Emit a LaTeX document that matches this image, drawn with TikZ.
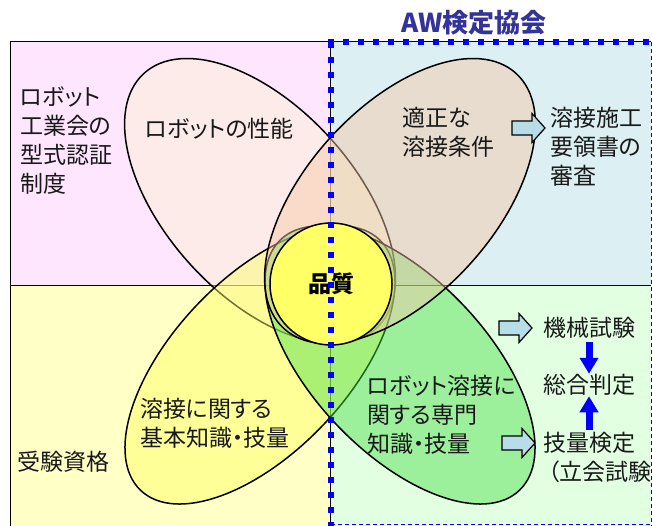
\documentclass[tikz,border=0pt]{standalone}
\usepackage{fontspec}
\setmainfont{Noto Sans CJK JP}[RawFeature=+palt]
\usetikzlibrary{arrows.meta}
\definecolor{bgTL}{HTML}{FFE6FF}
\definecolor{bgTR}{HTML}{DCEFF2}
\definecolor{bgBL}{HTML}{FFFFC6}
\definecolor{bgBR}{HTML}{E2FFE2}
\definecolor{pTL}{HTML}{FAF3CC}
\definecolor{pTR}{HTML}{F8C7A5}
\definecolor{pBL}{HTML}{FFFF62}
\definecolor{pBR}{HTML}{47DE47}
\definecolor{core}{HTML}{FFFF66}
\definecolor{awblue}{HTML}{333399}
\definecolor{arrfill}{HTML}{B7DDE8}
\begin{document}
\begin{tikzpicture}[x=1pt,y=-1pt,
  petal/.style={draw=black, line width=1.5pt, fill opacity=0.45},
  quad/.style={draw=black, line width=1pt},
  txt/.style={inner sep=0pt, outer sep=0pt, text=black!90, font=\fontsize{23pt}{29pt}\selectfont, align=left, anchor=north west},
  one/.style={inner sep=0pt, outer sep=0pt, text=black!90, font=\fontsize{23pt}{29pt}\selectfont, anchor=west, text height=19.5pt, text depth=3pt},
  blockarrow/.pic={\draw[draw=black, line width=1.2pt, fill=arrfill, line join=miter]
      (0,-7) -- (20,-7) -- (20,-14.5) -- (33,0) -- (20,14.5) -- (20,7) -- (0,7) -- cycle;},
  barrow/.style={draw=blue, line width=7pt, -{Triangle[width=18pt,length=16pt]}},
  thickdash/.style={draw=blue, line width=6pt, dash pattern=on 6pt off 9pt},
  thindash/.style={draw=blue, line width=1pt, dash pattern=on 4pt off 3pt},
  ]
\useasboundingbox (0,0) rectangle (652,526);
% quadrants
\fill[bgTL] (10,42) rectangle (330,285);
\fill[bgTR] (330,42) rectangle (651,285);
\fill[bgBL] (10,285) rectangle (330,530);
\fill[bgBR] (330,285) rectangle (651,530);
\draw[quad] (651,42) -- (10,42) -- (10,530);
\draw[quad] (10,285) -- (651,285);
\draw[quad] (330,42) -- (330,530);
% petals
\draw[petal, fill=pTL, rotate around={-47.7:(260,201)}] (260,201) ellipse [x radius=172.5, y radius=94.2];
\draw[petal, fill=pBL, rotate around={46.4:(260,365)}] (260,365) ellipse [x radius=173.1, y radius=87.1];
\draw[petal, fill=pBR, rotate around={-46.4:(400,365)}] (400,365) ellipse [x radius=173.1, y radius=87.1];
\draw[petal, fill=pTR, rotate around={47.7:(400,201)}] (400,201) ellipse [x radius=172.5, y radius=94.2];
% core
\node[circle, draw=black, line width=1.5pt, fill=core, minimum size=122pt, inner sep=0pt,
      font=\fontsize{23pt}{23pt}\selectfont\bfseries] (q) at (331,284) {品質};
% AW border
\draw[thindash] (651,42) -- (651,526);
\draw[thindash] (331,524) -- (651,524);
\draw[thickdash] (331,42) -- (331,530);
\draw[thickdash] (328,42) -- (652,42);
\node[inner sep=0pt, text=awblue, font=\fontsize{26pt}{26pt}\selectfont\bfseries] (aw) at (474,23) {AW検定協会};
% texts
\node[txt] (t1) at (20,87) {ロボット\\工業会の\\型式認証\\制度};
\node[one] (t2) at (145,129) {ロボットの性能};
\node[txt] (t3) at (402,107) {適正な\\溶接条件};
\node[txt] (t4) at (550,107) {溶接施工\\要領書の\\審査};
\node[txt] (t5) at (140,398) {溶接に関する\\基本知識・技量};
\node[one] (t6) at (17,462) {受験資格};
\node[txt] (t7) at (367,375) {ロボット溶接に\\関する専門\\知識・技量};
\node[one] (k1) at (543,328) {機械試験};
\node[one] (k2) at (543,385) {総合判定};
\node[one] (k3) at (543,443) {技量検定};
\node[one] (k4) at (548,472) {（立会試験};
% block arrows
\pic (a1) at (512,128) {blockarrow};
\pic (a2) at (499,328) {blockarrow};
\pic (a3) at (502,443) {blockarrow};
% blue arrows
\draw[barrow, shorten <=3pt] (k1.south) -- (k2.north);
\draw[barrow, shorten <=2pt] (k3.north) -- (k2.south);
\end{tikzpicture}
\end{document}
